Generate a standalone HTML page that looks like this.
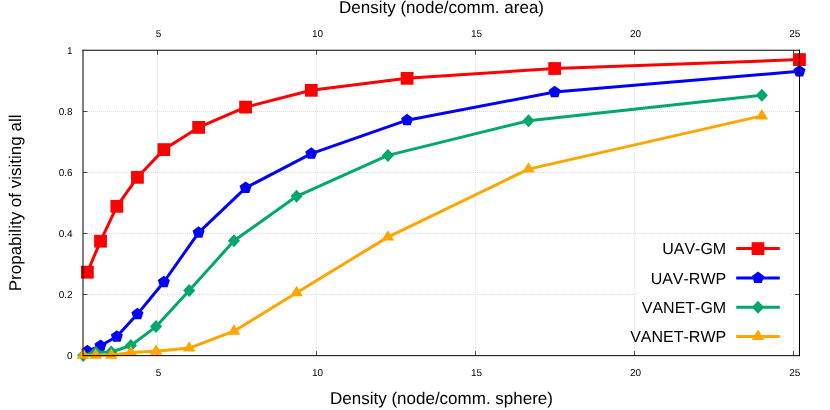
<!DOCTYPE html>
<html><head><meta charset="utf-8"><title>chart</title>
<style>
html,body{margin:0;padding:0;background:#fff;}
body{width:830px;height:410px;position:relative;overflow:hidden;font-family:"Liberation Sans",sans-serif;}
svg{will-change:transform;}
svg text{text-rendering:geometricPrecision;font-kerning:none;font-family:"Liberation Sans",sans-serif;fill:#000;}
</style></head><body>
<svg width="830" height="410" viewBox="0 0 830 410" style="position:absolute;left:0;top:0">
<rect x="0" y="0" width="830" height="410" fill="#ffffff"/>
<g stroke="#dddddd" stroke-width="1" stroke-dasharray="1 1" shape-rendering="crispEdges"><line x1="157.5" y1="50.35" x2="157.5" y2="355.45" stroke="#e4e4e4"/><line x1="316.5" y1="50.35" x2="316.5" y2="355.45" stroke="#e4e4e4"/><line x1="475.5" y1="50.35" x2="475.5" y2="355.45" stroke="#e4e4e4"/><line x1="634.5" y1="50.35" x2="634.5" y2="355.45" stroke="#e4e4e4"/><line x1="793.5" y1="50.35" x2="793.5" y2="355.45" stroke="#e4e4e4"/><line x1="83.0" y1="294.5" x2="799.5" y2="294.5"/><line x1="83.0" y1="233.5" x2="799.5" y2="233.5"/><line x1="83.0" y1="172.5" x2="799.5" y2="172.5"/><line x1="83.0" y1="111.5" x2="799.5" y2="111.5"/></g>
<g stroke="#4a4a4a" stroke-width="1"><line x1="157.5" y1="355.45" x2="157.5" y2="351.05"/><line x1="157.5" y1="50.35" x2="157.5" y2="54.75"/><line x1="316.5" y1="355.45" x2="316.5" y2="351.05"/><line x1="316.5" y1="50.35" x2="316.5" y2="54.75"/><line x1="475.5" y1="355.45" x2="475.5" y2="351.05"/><line x1="475.5" y1="50.35" x2="475.5" y2="54.75"/><line x1="634.5" y1="355.45" x2="634.5" y2="351.05"/><line x1="634.5" y1="50.35" x2="634.5" y2="54.75"/><line x1="793.5" y1="355.45" x2="793.5" y2="351.05"/><line x1="793.5" y1="50.35" x2="793.5" y2="54.75"/><line x1="83.0" y1="294.5" x2="87.4" y2="294.5"/><line x1="799.5" y1="294.5" x2="795.1" y2="294.5"/><line x1="83.0" y1="233.5" x2="87.4" y2="233.5"/><line x1="799.5" y1="233.5" x2="795.1" y2="233.5"/><line x1="83.0" y1="172.5" x2="87.4" y2="172.5"/><line x1="799.5" y1="172.5" x2="795.1" y2="172.5"/><line x1="83.0" y1="111.5" x2="87.4" y2="111.5"/><line x1="799.5" y1="111.5" x2="795.1" y2="111.5"/></g>
<polyline points="87.36,272.20 100.53,241.20 116.86,206.30 137.43,177.30 163.87,149.60 198.63,127.40 245.60,107.10 311.28,90.30 407.08,78.30 554.67,68.50 799.45,59.60" fill="none" stroke="#ff0000" stroke-width="3.0" stroke-linejoin="round" stroke-linecap="butt"/>
<rect x="80.96" y="265.80" width="12.80" height="12.80" fill="#ff0000"/><rect x="94.13" y="234.80" width="12.80" height="12.80" fill="#ff0000"/><rect x="110.46" y="199.90" width="12.80" height="12.80" fill="#ff0000"/><rect x="131.03" y="170.90" width="12.80" height="12.80" fill="#ff0000"/><rect x="157.47" y="143.20" width="12.80" height="12.80" fill="#ff0000"/><rect x="192.23" y="121.00" width="12.80" height="12.80" fill="#ff0000"/><rect x="239.20" y="100.70" width="12.80" height="12.80" fill="#ff0000"/><rect x="304.88" y="83.90" width="12.80" height="12.80" fill="#ff0000"/><rect x="400.68" y="71.90" width="12.80" height="12.80" fill="#ff0000"/><rect x="548.27" y="62.10" width="12.80" height="12.80" fill="#ff0000"/><rect x="793.05" y="53.20" width="12.80" height="12.80" fill="#ff0000"/>
<polyline points="87.36,351.20 100.53,345.80 116.86,336.50 137.43,314.10 163.87,282.00 198.63,232.60 245.60,187.80 311.28,153.70 407.08,120.20 554.67,92.00 799.45,71.30" fill="none" stroke="#0000ff" stroke-width="3.0" stroke-linejoin="round" stroke-linecap="butt"/>
<polygon points="87.36,344.85 93.40,349.24 91.09,356.34 83.63,356.34 81.32,349.24" fill="#0000ff"/><polygon points="100.53,339.45 106.57,343.84 104.26,350.94 96.80,350.94 94.49,343.84" fill="#0000ff"/><polygon points="116.86,330.15 122.90,334.54 120.59,341.64 113.12,341.64 110.82,334.54" fill="#0000ff"/><polygon points="137.43,307.75 143.47,312.14 141.16,319.24 133.70,319.24 131.39,312.14" fill="#0000ff"/><polygon points="163.87,275.65 169.91,280.04 167.60,287.14 160.13,287.14 157.83,280.04" fill="#0000ff"/><polygon points="198.63,226.25 204.66,230.64 202.36,237.74 194.89,237.74 192.59,230.64" fill="#0000ff"/><polygon points="245.60,181.45 251.64,185.84 249.34,192.94 241.87,192.94 239.56,185.84" fill="#0000ff"/><polygon points="311.28,147.35 317.32,151.74 315.01,158.84 307.55,158.84 305.24,151.74" fill="#0000ff"/><polygon points="407.08,113.85 413.12,118.24 410.81,125.34 403.34,125.34 401.04,118.24" fill="#0000ff"/><polygon points="554.67,85.65 560.71,90.04 558.40,97.14 550.94,97.14 548.63,90.04" fill="#0000ff"/><polygon points="799.45,64.95 805.49,69.34 803.19,76.44 795.72,76.44 793.41,69.34" fill="#0000ff"/>
<polyline points="83.18,355.40 95.73,352.20 111.28,352.00 130.89,345.50 156.09,326.60 189.21,290.60 233.98,240.80 296.57,196.30 387.86,155.40 528.52,120.70 761.79,95.30" fill="none" stroke="#00a96a" stroke-width="3.0" stroke-linejoin="round" stroke-linecap="butt"/>
<polygon points="83.18,348.90 89.28,355.40 83.18,361.90 77.08,355.40" fill="#00a96a"/><polygon points="95.73,345.70 101.83,352.20 95.73,358.70 89.63,352.20" fill="#00a96a"/><polygon points="111.28,345.50 117.38,352.00 111.28,358.50 105.18,352.00" fill="#00a96a"/><polygon points="130.89,339.00 136.99,345.50 130.89,352.00 124.79,345.50" fill="#00a96a"/><polygon points="156.09,320.10 162.19,326.60 156.09,333.10 149.99,326.60" fill="#00a96a"/><polygon points="189.21,284.10 195.31,290.60 189.21,297.10 183.11,290.60" fill="#00a96a"/><polygon points="233.98,234.30 240.08,240.80 233.98,247.30 227.88,240.80" fill="#00a96a"/><polygon points="296.57,189.80 302.67,196.30 296.57,202.80 290.47,196.30" fill="#00a96a"/><polygon points="387.86,148.90 393.96,155.40 387.86,161.90 381.76,155.40" fill="#00a96a"/><polygon points="528.52,114.20 534.62,120.70 528.52,127.20 522.42,120.70" fill="#00a96a"/><polygon points="761.79,88.80 767.89,95.30 761.79,101.80 755.69,95.30" fill="#00a96a"/>
<polyline points="83.18,355.30 95.73,355.30 111.28,355.30 130.89,352.50 156.09,351.30 189.21,348.10 233.98,331.20 296.57,292.80 387.86,237.10 528.52,169.10 761.79,115.90" fill="none" stroke="#ffa500" stroke-width="3.0" stroke-linejoin="round" stroke-linecap="butt"/>
<polygon points="83.18,348.35 89.53,358.80 76.83,358.80" fill="#ffa500"/><polygon points="95.73,348.35 102.08,358.80 89.38,358.80" fill="#ffa500"/><polygon points="111.28,348.35 117.63,358.80 104.93,358.80" fill="#ffa500"/><polygon points="130.89,345.55 137.24,356.00 124.54,356.00" fill="#ffa500"/><polygon points="156.09,344.35 162.44,354.80 149.74,354.80" fill="#ffa500"/><polygon points="189.21,341.15 195.56,351.60 182.86,351.60" fill="#ffa500"/><polygon points="233.98,324.25 240.33,334.70 227.63,334.70" fill="#ffa500"/><polygon points="296.57,285.85 302.92,296.30 290.22,296.30" fill="#ffa500"/><polygon points="387.86,230.15 394.21,240.60 381.51,240.60" fill="#ffa500"/><polygon points="528.52,162.15 534.87,172.60 522.17,172.60" fill="#ffa500"/><polygon points="761.79,108.95 768.14,119.40 755.44,119.40" fill="#ffa500"/>
<rect x="637" y="234" width="152" height="117" fill="#fff"/>
<line x1="736.2" y1="248.6" x2="779.8" y2="248.6" stroke="#ff0000" stroke-width="3.0"/>
<rect x="751.60" y="242.20" width="12.80" height="12.80" fill="#ff0000"/>
<text x="726.2" y="254.2" text-anchor="end" font-size="16">UAV-GM</text>
<line x1="736.2" y1="277.9" x2="779.8" y2="277.9" stroke="#0000ff" stroke-width="3.0"/>
<polygon points="758.00,271.55 764.04,275.94 761.73,283.04 754.27,283.04 751.96,275.94" fill="#0000ff"/>
<text x="726.2" y="283.5" text-anchor="end" font-size="16">UAV-RWP</text>
<line x1="736.2" y1="307.3" x2="779.8" y2="307.3" stroke="#00a96a" stroke-width="3.0"/>
<polygon points="758.00,300.80 764.10,307.30 758.00,313.80 751.90,307.30" fill="#00a96a"/>
<text x="726.2" y="312.9" text-anchor="end" font-size="16">VANET-GM</text>
<line x1="736.2" y1="336.4" x2="779.8" y2="336.4" stroke="#ffa500" stroke-width="3.0"/>
<polygon points="758.00,329.45 764.35,339.90 751.65,339.90" fill="#ffa500"/>
<text x="726.2" y="342.0" text-anchor="end" font-size="16">VANET-RWP</text>
<path d="M83.0,355.65 H799.5 M83.0,49.75 V356.15 M799.5,49.75 V356.15" fill="none" stroke="#000" stroke-width="1"/>
<path d="M82.5,50.25 H800.0" fill="none" stroke="#000" stroke-width="1.1"/>
<text x="158.5" y="376" text-anchor="middle" font-size="10">5</text>
<text x="158.5" y="37" text-anchor="middle" font-size="10">5</text>
<text x="317.6" y="376" text-anchor="middle" font-size="10">10</text>
<text x="317.6" y="37" text-anchor="middle" font-size="10">10</text>
<text x="476.6" y="376" text-anchor="middle" font-size="10">15</text>
<text x="476.6" y="37" text-anchor="middle" font-size="10">15</text>
<text x="635.6" y="376" text-anchor="middle" font-size="10">20</text>
<text x="635.6" y="37" text-anchor="middle" font-size="10">20</text>
<text x="794.7" y="376" text-anchor="middle" font-size="10">25</text>
<text x="794.7" y="37" text-anchor="middle" font-size="10">25</text>
<text x="72.6" y="359" text-anchor="end" font-size="10">0</text>
<text x="72.6" y="298" text-anchor="end" font-size="10">0.2</text>
<text x="72.6" y="237" text-anchor="end" font-size="10">0.4</text>
<text x="72.6" y="176" text-anchor="end" font-size="10">0.6</text>
<text x="72.6" y="115" text-anchor="end" font-size="10">0.8</text>
<text x="72.6" y="54" text-anchor="end" font-size="10">1</text>
<text x="441.5" y="13.2" text-anchor="middle" font-size="17">Density (node/comm. area)</text>
<text x="441.5" y="403.5" text-anchor="middle" font-size="17">Density (node/comm. sphere)</text>
<text transform="translate(21.0,202.9) rotate(-90)" text-anchor="middle" font-size="17">Propability of visiting all</text>
</svg>
</body></html>
